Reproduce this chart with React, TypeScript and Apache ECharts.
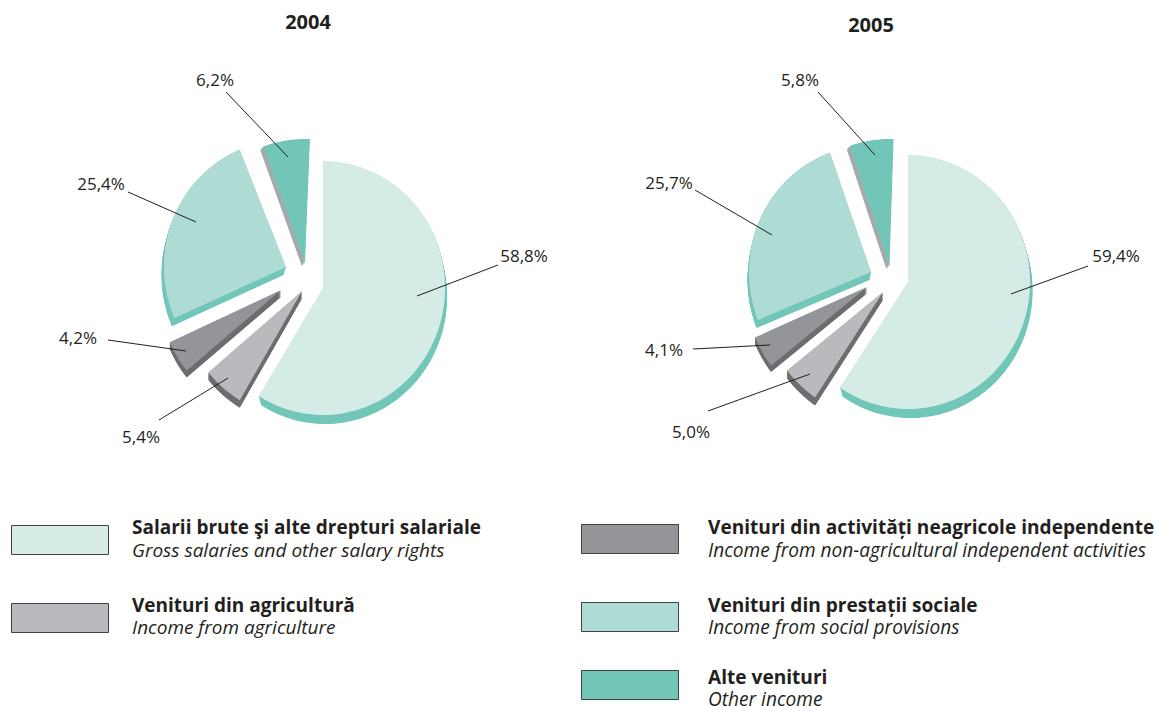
import React, { useEffect, useRef } from "react";
import * as echarts from "echarts";

const years = ["2004", "2005"];
const categoriesRo = [
  "Salarii brute şi alte drepturi salariale",
  "Venituri din agricultură",
  "Venituri din activități neagricole independente",
  "Venituri din prestații sociale",
  "Alte venituri",
];
const categoriesEn = [
  "Gross salaries and other salary rights",
  "Income from agriculture",
  "Income from non-agricultural independent activities",
  "Income from social provisions",
  "Other income",
];
const values2004 = [58.8, 5.4, 4.2, 25.4, 6.2];
const values2005 = [59.4, 5.0, 4.1, 25.7, 5.8];
const yearValues = [values2004, values2005];

const faceColors = ["#d5ebe6", "#b9babd", "#939598", "#aedbd4", "#72c6b8"];
const sideColors = ["#72c7b8", "#6d6e71", "#6d6e71", "#72c7b8", "#a7a9ac"];
const INK = "#231f20";
const FONT = "'Open Sans', sans-serif";

// Key placement per category: swatch x/y, text x, bold line y, italic line y, font size.
const keyLayout = [
  { x: 11, y: 525, tx: 132, y1: 527, y2: 550, size: 19 },
  { x: 11, y: 603, tx: 132, y1: 605, y2: 627, size: 19 },
  { x: 581, y: 524, tx: 708, y1: 527, y2: 550, size: 19.1 },
  { x: 581, y: 602, tx: 708, y1: 605, y2: 627, size: 19.1 },
  { x: 581, y: 670, tx: 708, y1: 677, y2: 699, size: 19.1 },
];

// Layout per [year][category]: slice apex, extrusion, small rotation and the leader/label placement.
type Slice = { ax: number; ay: number; sx: number; sy: number; rot: number; ry?: number; label: number[]; line: number[] };
const layout: Slice[][] = [
  [
    { ax: 323, ay: 288, sx: 2, sy: 9, rot: 0, label: [524, 255], line: [417, 296, 498, 265] },
    { ax: 302, ay: 291, sx: 0, sy: 7.5, rot: -1, label: [141, 436], line: [159, 420, 228, 378] },
    { ax: 281, ay: 290, sx: 0, sy: 7, rot: -0.5, label: [78, 337], line: [108, 340, 186, 351] },
    { ax: 286, ay: 267, sx: -2.5, sy: 8, rot: 0, label: [101, 183], line: [128, 192, 196, 222] },
    { ax: 305, ay: 263, sx: -3, sy: 3.5, rot: 2.3, ry: 124, label: [215, 79], line: [226, 92, 288, 157] },
  ],
  [
    { ax: 908, ay: 282, sx: 2.5, sy: 9, rot: 0, label: [1116, 255], line: [1011, 294, 1088, 266] },
    { ax: 883, ay: 292, sx: 0, sy: 8, rot: 0, label: [691, 431], line: [708, 411, 810, 374] },
    { ax: 867, ay: 287, sx: 0, sy: 6.5, rot: 0, label: [664, 349], line: [693, 349, 770, 345] },
    { ax: 871, ay: 272, sx: -1.5, sy: 8, rot: 1.2, label: [669, 182], line: [695, 190, 772, 235] },
    { ax: 889.5, ay: 266, sx: -3, sy: 3.5, rot: 1.9, label: [800, 79], line: [818, 92, 875, 155] },
  ],
];
const RX = 122;
const RY = 127;

function facePoints(s: Slice, fromPct: number, toPct: number, dx: number, dy: number) {
  const a0 = fromPct * 3.6 + s.rot;
  const a1 = toPct * 3.6 + s.rot;
  const n = Math.max(4, Math.ceil((a1 - a0) / 2));
  const pts: number[][] = [[s.ax + dx, s.ay + dy]];
  const ry = s.ry ?? RY;
  for (let i = 0; i <= n; i++) {
    const t = ((a0 + ((a1 - a0) * i) / n) * Math.PI) / 180;
    pts.push([s.ax + dx + Math.sin(t) * RX, s.ay + dy - Math.cos(t) * ry]);
  }
  return pts;
}

function makeRenderItem(cat: number) {
  return (params: any, api: any) => {
    const yi = params.dataIndex;
    const value = api.value(0) as number;
    const from = yearValues[yi].slice(0, cat).reduce((a, b) => a + b, 0);
    const s = layout[yi][cat];
    const children: any[] = [];
    const steps = Math.ceil(Math.max(Math.abs(s.sx), Math.abs(s.sy)) * 2);
    for (let k = steps; k >= 1; k--) {
      children.push({
        type: "polygon",
        shape: { points: facePoints(s, from, from + value, (s.sx * k) / steps, (s.sy * k) / steps) },
        style: { fill: sideColors[cat] },
      });
    }
    children.push({
      type: "polygon",
      shape: { points: facePoints(s, from, from + value, 0, 0) },
      style: { fill: faceColors[cat] },
    });
    children.push({
      type: "line",
      shape: { x1: s.line[0], y1: s.line[1], x2: s.line[2], y2: s.line[3] },
      style: { stroke: INK, lineWidth: 1 },
    });
    children.push({
      type: "text",
      style: {
        x: s.label[0],
        y: s.label[1],
        text: value.toFixed(1).replace(".", ",") + "%",
        fill: INK,
        font: `17px ${FONT}`,
        align: "center",
        verticalAlign: "middle",
      },
    });
    return { type: "group", children };
  };
}

function keyElements() {
  return categoriesRo.flatMap((name, i) => {
    const k = keyLayout[i];
    return [
      {
        type: "rect",
        silent: true,
        shape: { x: k.x + 0.5, y: k.y + 0.5, width: 97, height: 29 },
        style: { fill: faceColors[i], stroke: "#414042", lineWidth: 1 },
      },
      {
        type: "text",
        silent: true,
        style: { x: k.tx, y: k.y1, text: name, fill: INK, font: `bold ${k.size}px ${FONT}`, align: "left", verticalAlign: "middle" },
      },
      {
        type: "text",
        silent: true,
        style: { x: k.tx, y: k.y2, text: categoriesEn[i], fill: INK, font: `italic ${k.size}px ${FONT}`, align: "left", verticalAlign: "middle" },
      },
    ];
  });
}

export default function App() {
  const ref = useRef<HTMLDivElement>(null);
  useEffect(() => {
    document.body.style.margin = "0";
    const chart = echarts.init(ref.current!, undefined, { renderer: "svg" });
    chart.setOption({
      animation: false,
      backgroundColor: "#ffffff",
      title: [
        { text: years[0], left: 303, top: 6, textAlign: "center", textStyle: { fontFamily: FONT, fontWeight: "bold", fontSize: 20, color: INK } },
        { text: years[1], left: 866, top: 9, textAlign: "center", textStyle: { fontFamily: FONT, fontWeight: "bold", fontSize: 20, color: INK } },
      ],
      graphic: { elements: keyElements() },
      series: categoriesRo.map((name, cat) => ({
        type: "custom",
        name,
        coordinateSystem: "none",
        silent: true,
        itemStyle: { color: faceColors[cat] },
        data: [values2004[cat], values2005[cat]],
        renderItem: makeRenderItem(cat),
      })),
    });
    return () => chart.dispose();
  }, []);
  return <div ref={ref} style={{ width: 1158, height: 706, position: "absolute", left: 0, top: 0 }} />;
}
